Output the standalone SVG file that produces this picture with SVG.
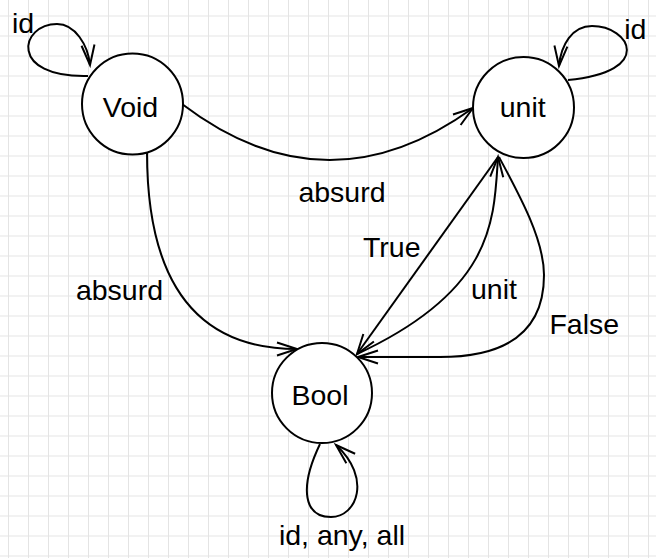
<svg xmlns="http://www.w3.org/2000/svg" width="656" height="558" viewBox="0 0 656 558">
<style>
.node{fill:#ffffff;stroke:#000000;stroke-width:2}
.edge{fill:none;stroke:#000000;stroke-width:2;marker-end:url(#arrow)}
.loop{fill:none;stroke:#000000;stroke-width:2;marker-end:url(#arrow)}
text{font-family:"Liberation Sans",Arial,Helvetica,sans-serif;font-size:28.5px;fill:#000000;text-anchor:middle}
</style>
<defs>
<pattern id="grid" x="8" y="15.5" width="20" height="20" patternUnits="userSpaceOnUse">
<path d="M0,0.5 H20 M0.5,0 V20" fill="none" stroke="#e4e4e4" stroke-width="1"/>
</pattern>
<marker id="arrow" markerUnits="userSpaceOnUse" viewBox="-22 -9 24 18" refX="0" refY="0" markerWidth="24" markerHeight="18" orient="auto" overflow="visible">
<path d="M-20,-6.5 L0,0 L-20,6.5" fill="none" stroke="#000000" stroke-width="2" stroke-linejoin="miter"/>
</marker>
</defs>
<rect width="656" height="558" fill="#ffffff"/>
<rect width="656" height="558" fill="url(#grid)"/>
<g id="connectors">
<path class="edge" d="M182,104 Q326.5,214 473,108"/>
<path class="edge" d="M147,152 Q147,349 297,349"/>
<path class="loop" d="M88,76 C8,78 20,24 57,24 C75,24 88,45 90,65"/>
<path class="loop" d="M568,80 C655,72 630,26 592,26 C572,26 561,45 559,66"/>
<path class="loop" d="M320,444 C298,490 305,517 331,517 C357,517 372,478 336,445"/>
<path class="edge" d="M498,157 L357,354"/>
<path class="edge" d="M357,354 C495,290 494,220 498,157"/>
<path class="edge" d="M499,157 C520,196 544,240 544,275 C544,320 520,357 440,357 L358,357"/>
</g>
<g id="node-void">
<circle class="node" cx="132.5" cy="104" r="50.5"/>
<text x="130.5" y="117.3">Void</text>
</g>
<g id="node-unit">
<circle class="node" cx="523.5" cy="107.5" r="50.5"/>
<text x="522.7" y="117.3">unit</text>
</g>
<g id="node-bool">
<circle class="node" cx="322" cy="393" r="50"/>
<text x="320" y="405">Bool</text>
</g>
<g id="labels">
<text x="342" y="201.7">absurd</text>
<text x="119.5" y="299.5">absurd</text>
<text x="391.8" y="256.7">True</text>
<text x="494" y="299">unit</text>
<text x="584.3" y="334.3">False</text>
<text x="23" y="33.3">id</text>
<text x="635.3" y="39.3">id</text>
<text x="342" y="545">id, any, all</text>
</g>
</svg>
